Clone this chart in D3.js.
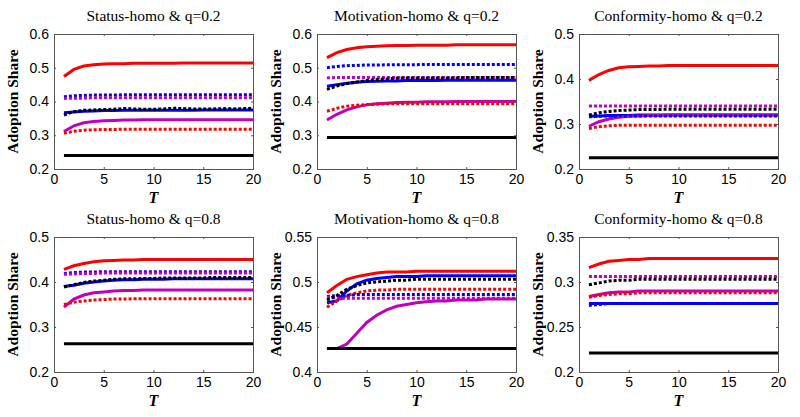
<!DOCTYPE html>
<html><head><meta charset="utf-8">
<script src="https://cdn.jsdelivr.net/npm/d3@7"></script>
<style>body{margin:0;background:#fff}svg{display:block}</style>
</head><body>
<svg id="chart" width="800" height="417"></svg>
<script>
const T = [1,2,3,4,5,6,7,8,9,10,11,12,13,14,15,16,17,18,19,20];
const xTicks = [0,5,10,15,20];
const titles = ["Status-homo & q=0.2","Motivation-homo & q=0.2","Conformity-homo & q=0.2","Status-homo & q=0.8","Motivation-homo & q=0.8","Conformity-homo & q=0.8"];
const yDomains = [[0.2,0.6],[0.2,0.6],[0.2,0.5],[0.2,0.5],[0.4,0.55],[0.2,0.35]];
const yTickLabels = [[0.2,0.3,0.4,0.5,0.6],[0.2,0.3,0.4,0.5,0.6],[0.2,0.3,0.4,0.5],[0.2,0.3,0.4,0.5],[0.4,0.45,0.5,0.55],[0.2,0.25,0.3,0.35]];
const seriesNames = ["redSolid","blueSolid","magSolid","blackSolid","redDot","blueDot","magDot","blackDot"];

// Panel 1: Status-homo q=0.2
const p1_redSolid  = [0.474,0.495,0.505,0.509,0.511,0.512,0.512,0.513,0.513,0.513,0.513,0.513,0.514,0.514,0.514,0.514,0.514,0.514,0.514,0.514];
const p1_blueSolid = [0.367,0.369,0.371,0.372,0.373,0.373,0.374,0.374,0.374,0.374,0.374,0.374,0.374,0.374,0.375,0.375,0.375,0.375,0.375,0.375];
const p1_magSolid  = [0.311,0.328,0.337,0.341,0.343,0.344,0.345,0.345,0.346,0.346,0.346,0.346,0.346,0.346,0.346,0.346,0.346,0.346,0.346,0.346];
const p1_blackSolid= [0.24,0.24,0.24,0.24,0.24,0.24,0.24,0.24,0.24,0.24,0.24,0.24,0.24,0.24,0.24,0.24,0.24,0.24,0.24,0.24];
const p1_redDot    = [0.306,0.312,0.315,0.316,0.317,0.317,0.318,0.318,0.318,0.318,0.318,0.318,0.318,0.318,0.318,0.318,0.318,0.318,0.318,0.318];
const p1_blueDot   = [0.414,0.417,0.418,0.419,0.419,0.419,0.420,0.420,0.420,0.420,0.420,0.420,0.420,0.420,0.420,0.420,0.420,0.420,0.420,0.420];
const p1_magDot    = [0.409,0.410,0.410,0.411,0.411,0.411,0.411,0.411,0.411,0.411,0.411,0.411,0.411,0.411,0.411,0.411,0.411,0.411,0.411,0.411];
const p1_blackDot  = [0.360,0.370,0.374,0.375,0.376,0.377,0.379,0.378,0.377,0.377,0.378,0.380,0.379,0.378,0.378,0.378,0.379,0.378,0.379,0.379];

// Panel 2: Motivation-homo q=0.2
const p2_redSolid  = [0.530,0.545,0.554,0.559,0.562,0.564,0.565,0.566,0.566,0.567,0.567,0.567,0.567,0.568,0.568,0.568,0.568,0.568,0.568,0.568];
const p2_blueSolid = [0.445,0.450,0.454,0.457,0.459,0.460,0.461,0.461,0.462,0.462,0.462,0.462,0.463,0.463,0.463,0.463,0.463,0.463,0.463,0.463];
const p2_magSolid  = [0.345,0.362,0.375,0.384,0.390,0.393,0.395,0.397,0.398,0.398,0.399,0.399,0.399,0.400,0.400,0.400,0.400,0.400,0.400,0.400];
const p2_blackSolid= [0.293,0.293,0.293,0.293,0.293,0.293,0.293,0.293,0.293,0.293,0.293,0.293,0.293,0.293,0.293,0.293,0.293,0.293,0.293,0.293];
const p2_redDot    = [0.371,0.380,0.386,0.389,0.391,0.392,0.393,0.393,0.393,0.393,0.393,0.393,0.393,0.393,0.393,0.393,0.393,0.393,0.393,0.393];
const p2_blueDot   = [0.500,0.504,0.506,0.507,0.508,0.508,0.509,0.509,0.509,0.509,0.510,0.510,0.510,0.510,0.510,0.510,0.510,0.510,0.510,0.510];
const p2_magDot    = [0.470,0.471,0.471,0.471,0.471,0.471,0.471,0.471,0.471,0.471,0.471,0.471,0.471,0.471,0.471,0.471,0.471,0.471,0.471,0.471];
const p2_blackDot  = [0.436,0.446,0.453,0.458,0.462,0.465,0.467,0.469,0.470,0.470,0.470,0.470,0.470,0.470,0.471,0.471,0.471,0.471,0.471,0.471];

// Panel 3: Conformity-homo q=0.2
const p3_redSolid  = [0.397,0.410,0.419,0.425,0.427,0.428,0.429,0.429,0.430,0.430,0.430,0.430,0.430,0.430,0.430,0.430,0.430,0.430,0.430,0.430];
const p3_blueSolid = [0.317,0.318,0.319,0.319,0.319,0.320,0.320,0.320,0.320,0.320,0.320,0.320,0.320,0.320,0.320,0.320,0.320,0.320,0.320,0.320];
const p3_magSolid  = [0.295,0.305,0.311,0.315,0.317,0.318,0.319,0.319,0.320,0.320,0.320,0.320,0.320,0.320,0.320,0.320,0.320,0.320,0.320,0.320];
const p3_blackSolid= [0.225,0.225,0.225,0.225,0.225,0.225,0.225,0.225,0.225,0.225,0.225,0.225,0.225,0.225,0.225,0.225,0.225,0.225,0.225,0.225];
const p3_redDot    = [0.290,0.294,0.296,0.297,0.297,0.297,0.297,0.297,0.297,0.297,0.297,0.297,0.297,0.297,0.297,0.297,0.297,0.297,0.297,0.297];
const p3_blueDot   = [0.316,0.317,0.318,0.318,0.318,0.318,0.318,0.318,0.318,0.318,0.318,0.318,0.318,0.318,0.318,0.318,0.318,0.318,0.318,0.318];
const p3_magDot    = [0.340,0.340,0.340,0.340,0.340,0.340,0.340,0.340,0.340,0.340,0.340,0.340,0.340,0.340,0.340,0.340,0.340,0.340,0.340,0.340];
const p3_blackDot  = [0.320,0.325,0.328,0.330,0.331,0.332,0.332,0.332,0.333,0.333,0.333,0.333,0.333,0.333,0.333,0.333,0.333,0.333,0.333,0.333];

// Panel 4: Status-homo q=0.8
const p4_redSolid  = [0.428,0.436,0.441,0.445,0.447,0.448,0.449,0.449,0.450,0.450,0.450,0.450,0.450,0.450,0.450,0.450,0.450,0.450,0.450,0.450];
const p4_blueSolid = [0.390,0.393,0.397,0.400,0.402,0.404,0.405,0.405,0.406,0.406,0.406,0.407,0.407,0.407,0.407,0.407,0.407,0.407,0.407,0.407];
const p4_magSolid  = [0.344,0.362,0.371,0.376,0.378,0.380,0.381,0.381,0.382,0.382,0.382,0.382,0.382,0.382,0.382,0.382,0.382,0.382,0.382,0.382];
const p4_blackSolid= [0.263,0.263,0.263,0.263,0.263,0.263,0.263,0.263,0.263,0.263,0.263,0.263,0.263,0.263,0.263,0.263,0.263,0.263,0.263,0.263];
const p4_redDot    = [0.350,0.355,0.358,0.360,0.361,0.362,0.362,0.363,0.363,0.363,0.363,0.363,0.363,0.363,0.363,0.363,0.363,0.363,0.363,0.363];
const p4_blueDot   = [0.419,0.421,0.422,0.422,0.423,0.423,0.423,0.423,0.423,0.423,0.423,0.423,0.423,0.423,0.423,0.423,0.423,0.423,0.423,0.423];
const p4_magDot    = [0.417,0.418,0.419,0.419,0.420,0.420,0.420,0.420,0.420,0.420,0.420,0.420,0.420,0.420,0.420,0.420,0.420,0.420,0.420,0.420];
const p4_blackDot  = [0.389,0.394,0.399,0.402,0.404,0.406,0.407,0.407,0.408,0.408,0.409,0.409,0.409,0.409,0.409,0.410,0.410,0.410,0.410,0.410];

// Panel 5: Motivation-homo q=0.8
const p5_redSolid  = [0.488,0.496,0.503,0.506,0.508,0.510,0.511,0.511,0.511,0.512,0.512,0.512,0.512,0.512,0.512,0.512,0.512,0.512,0.512,0.512];
const p5_blueSolid = [0.477,0.479,0.490,0.498,0.502,0.504,0.505,0.506,0.506,0.506,0.507,0.507,0.507,0.507,0.507,0.507,0.507,0.507,0.507,0.507];
const p5_magSolid  = [0.426,0.426,0.431,0.443,0.455,0.463,0.469,0.473,0.475,0.477,0.478,0.479,0.479,0.480,0.480,0.480,0.481,0.481,0.481,0.481];
const p5_blackSolid= [0.426,0.426,0.426,0.426,0.426,0.426,0.426,0.426,0.426,0.426,0.426,0.426,0.426,0.426,0.426,0.426,0.426,0.426,0.426,0.426];
const p5_redDot    = [0.472,0.479,0.485,0.488,0.490,0.491,0.491,0.492,0.492,0.492,0.492,0.492,0.492,0.492,0.492,0.492,0.492,0.492,0.492,0.492];
const p5_blueDot   = [0.484,0.485,0.485,0.486,0.486,0.486,0.486,0.486,0.486,0.486,0.486,0.486,0.486,0.486,0.486,0.486,0.486,0.486,0.486,0.486];
const p5_magDot    = [0.483,0.482,0.482,0.482,0.482,0.482,0.482,0.482,0.482,0.482,0.482,0.482,0.482,0.482,0.482,0.482,0.482,0.482,0.482,0.482];
const p5_blackDot  = [0.480,0.485,0.492,0.496,0.499,0.500,0.501,0.502,0.502,0.503,0.503,0.503,0.503,0.503,0.503,0.503,0.503,0.503,0.503,0.503];

// Panel 6: Conformity-homo q=0.8
const p6_redSolid  = [0.316,0.320,0.323,0.324,0.325,0.325,0.326,0.326,0.326,0.326,0.326,0.326,0.326,0.326,0.326,0.326,0.326,0.326,0.326,0.326];
const p6_blueSolid = [0.276,0.276,0.276,0.276,0.276,0.276,0.276,0.276,0.276,0.276,0.276,0.276,0.276,0.276,0.276,0.276,0.276,0.276,0.276,0.276];
const p6_magSolid  = [0.284,0.286,0.288,0.289,0.289,0.290,0.290,0.290,0.290,0.290,0.290,0.290,0.290,0.290,0.290,0.290,0.290,0.290,0.290,0.290];
const p6_blackSolid= [0.221,0.221,0.221,0.221,0.221,0.221,0.221,0.221,0.221,0.221,0.221,0.221,0.221,0.221,0.221,0.221,0.221,0.221,0.221,0.221];
const p6_redDot    = [0.283,0.285,0.286,0.287,0.287,0.288,0.288,0.288,0.288,0.288,0.288,0.288,0.288,0.288,0.288,0.288,0.288,0.288,0.288,0.288];
const p6_blueDot   = [0.274,0.275,0.276,0.276,0.276,0.276,0.276,0.276,0.276,0.276,0.276,0.276,0.276,0.276,0.276,0.276,0.276,0.276,0.276,0.276];
const p6_magDot    = [0.306,0.306,0.306,0.306,0.306,0.306,0.306,0.306,0.306,0.306,0.306,0.306,0.306,0.306,0.306,0.306,0.306,0.306,0.306,0.306];
const p6_blackDot  = [0.297,0.299,0.301,0.302,0.302,0.303,0.303,0.303,0.303,0.303,0.303,0.303,0.303,0.303,0.303,0.303,0.303,0.303,0.303,0.303];

const panelData = [
  [p1_redSolid,p1_blueSolid,p1_magSolid,p1_blackSolid,p1_redDot,p1_blueDot,p1_magDot,p1_blackDot],
  [p2_redSolid,p2_blueSolid,p2_magSolid,p2_blackSolid,p2_redDot,p2_blueDot,p2_magDot,p2_blackDot],
  [p3_redSolid,p3_blueSolid,p3_magSolid,p3_blackSolid,p3_redDot,p3_blueDot,p3_magDot,p3_blackDot],
  [p4_redSolid,p4_blueSolid,p4_magSolid,p4_blackSolid,p4_redDot,p4_blueDot,p4_magDot,p4_blackDot],
  [p5_redSolid,p5_blueSolid,p5_magSolid,p5_blackSolid,p5_redDot,p5_blueDot,p5_magDot,p5_blackDot],
  [p6_redSolid,p6_blueSolid,p6_magSolid,p6_blackSolid,p6_redDot,p6_blueDot,p6_magDot,p6_blackDot]
];

const colors = {redSolid:"#ff0000",blueSolid:"#0000ff",magSolid:"#bf00bf",blackSolid:"#000000",
                redDot:"#ff0000",blueDot:"#0000ff",magDot:"#bf00bf",blackDot:"#000000"};

const colLeft = [54, 317, 579];
const rowTop = [34, 237];
const pw = 199, ph = 135;

const svg = d3.select("#chart");

panelData.forEach((series, i) => {
  const col = i % 3, row = Math.floor(i / 3);
  const g = svg.append("g").attr("transform", `translate(${colLeft[col]},${rowTop[row]})`);
  const x = d3.scaleLinear().domain([0, 20]).range([0, pw]);
  const y = d3.scaleLinear().domain(yDomains[i]).range([ph, 0]);

  const clipId = "clip" + i;
  g.append("clipPath").attr("id", clipId).append("rect").attr("width", pw).attr("height", ph);

  const line = d3.line().x((d, j) => x(T[j])).y(d => y(d)).curve(d3.curveLinear);
  const lg = g.append("g").attr("clip-path", `url(#${clipId})`);
  series.forEach((vals, k) => {
    const name = seriesNames[k];
    const dotted = name.endsWith("Dot");
    lg.append("path").datum(vals)
      .attr("d", line)
      .attr("fill", "none")
      .attr("stroke", colors[name])
      .attr("stroke-width", 3)
      .attr("stroke-dasharray", dotted ? "3,2" : null);
  });

  // axes
  const fmt = d3.format("~g");
  const xAxis = d3.axisBottom(x).tickValues(xTicks).tickSizeInner(-2).tickSizeOuter(0).tickPadding(5);
  const yAxis = d3.axisLeft(y).tickValues(yTickLabels[i]).tickFormat(fmt).tickSizeInner(-2).tickSizeOuter(0).tickPadding(5);
  const xa = g.append("g").attr("transform", `translate(0,${ph})`).call(xAxis);
  const ya = g.append("g").call(yAxis);
  g.append("g").call(d3.axisTop(x).tickValues(xTicks).tickSizeInner(-2).tickSizeOuter(0).tickFormat(""));
  g.append("g").attr("transform", `translate(${pw},0)`).call(d3.axisRight(y).tickValues(yTickLabels[i]).tickSizeInner(-2).tickSizeOuter(0).tickFormat(""));
  g.selectAll(".domain").remove();
  g.selectAll(".tick line").attr("stroke", "#555");
  [xa, ya].forEach(a => a.selectAll("text")
    .attr("font-family", "Liberation Sans, Arial, sans-serif")
    .attr("font-size", 14).attr("fill", "#000"));
  g.append("rect").attr("width", pw).attr("height", ph)
    .attr("fill", "none").attr("stroke", "#555").attr("stroke-width", 1).attr("shape-rendering", "crispEdges");

  // title
  g.append("text").attr("x", pw / 2).attr("y", -13)
    .attr("text-anchor", "middle")
    .attr("font-family", "Liberation Serif, Times New Roman, serif")
    .attr("font-size", 15.5).attr("fill", "#000")
    .text(titles[i]);
  // y label
  g.append("text").attr("transform", `translate(-36,${ph / 2}) rotate(-90)`)
    .attr("text-anchor", "middle")
    .attr("font-family", "Liberation Serif, Times New Roman, serif")
    .attr("font-weight", "bold").attr("font-size", 15.5).attr("fill", "#000")
    .text("Adoption Share");
  // x label
  g.append("text").attr("x", pw / 2).attr("y", ph + 34)
    .attr("text-anchor", "middle")
    .attr("font-family", "Liberation Serif, Times New Roman, serif")
    .attr("font-style", "italic").attr("font-weight", "bold").attr("font-size", 16).attr("fill", "#000")
    .text("T");
});
</script>
</body></html>
